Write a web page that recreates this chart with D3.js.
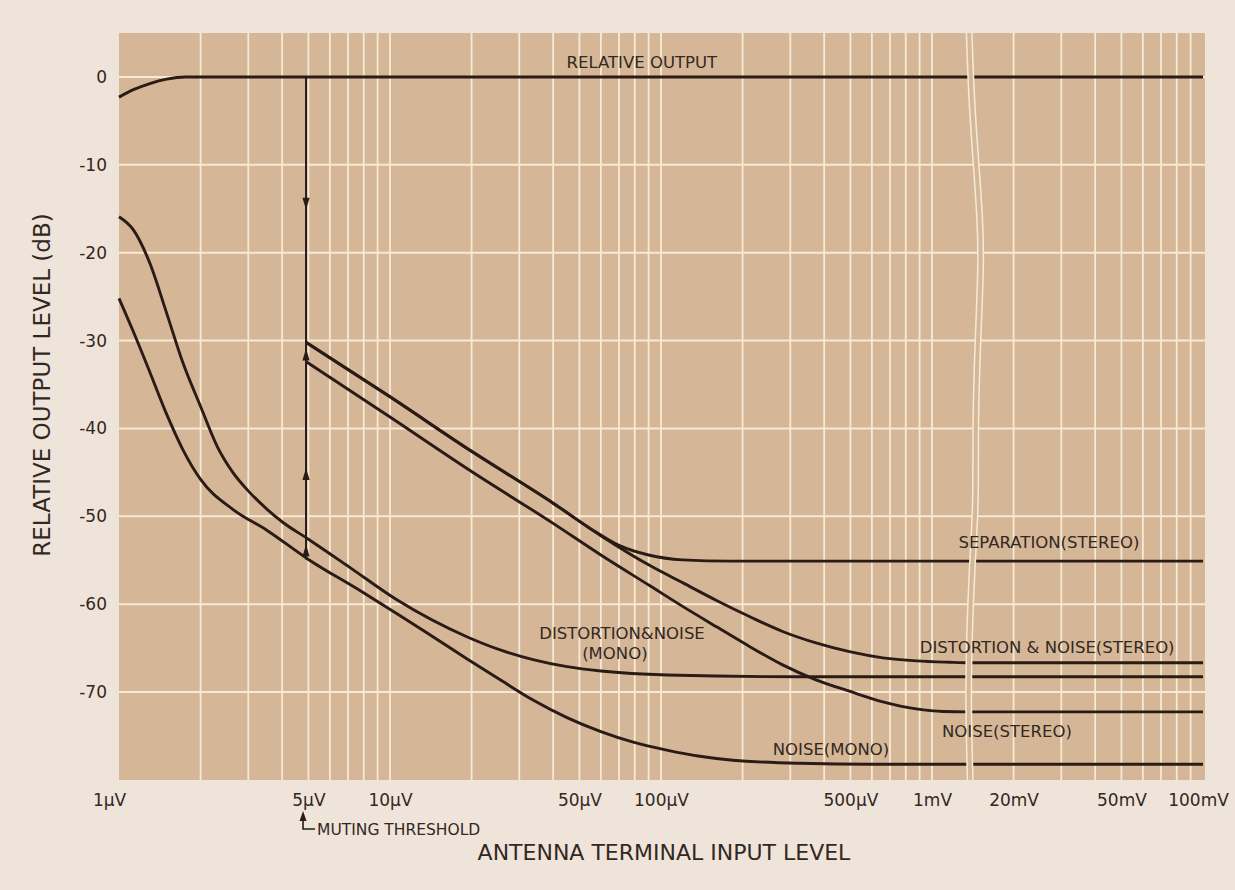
<!DOCTYPE html>
<html><head><meta charset="utf-8">
<script src="https://cdn.jsdelivr.net/npm/d3@7"></script>
<style>
html,body{margin:0;padding:0;background:#efe4da;}
svg{display:block;}
text{font-family:"DejaVu Sans","Liberation Sans",sans-serif;fill:#33281f;}
</style></head><body>
<svg id="chart" width="1235" height="890"></svg>
<script>
// ---------------- DATA (x in µV, y in dB) ----------------
const xTickValues = [1, 5, 10, 50, 100, 500, 1000, 20000, 50000, 100000];
const xTickLabels = ["1µV", "5µV", "10µV", "50µV", "100µV", "500µV", "1mV", "20mV", "50mV", "100mV"];
const yTickValues = [0, -10, -20, -30, -40, -50, -60, -70];
const yTickLabels = ["0", "-10", "-20", "-30", "-40", "-50", "-60", "-70"];

const relativeOutput = [[1,-2.3],[1.13,-1.45],[1.3,-0.75],[1.5,-0.25],[1.75,0],[2.2,0],[1000,0],[100000,0]];
const separationStereo = [[4.9,-30.2],[10,-36.4],[20,-42.6],[40,-48.5],[55,-51.4],[70,-53.3],[90,-54.4],[120,-54.95],[180,-55.1],[400,-55.1],[100000,-55.1]];
const distNoiseStereo = [[4.9,-30.2],[10,-36.4],[20,-42.6],[40,-48.5],[60,-52.2],[91,-55.6],[121,-57.6],[161,-59.6],[212,-61.4],[281,-63.1],[373,-64.4],[496,-65.4],[659,-66.1],[875,-66.45],[1160,-66.6],[2000,-66.65],[100000,-66.65]];
const noiseStereo = [[4.9,-32.4],[10,-38.7],[20,-44.9],[40,-50.8],[60,-54.4],[91,-57.9],[121,-60.3],[161,-62.6],[212,-64.8],[281,-66.9],[373,-68.6],[496,-69.9],[659,-71.1],[875,-71.9],[1100,-72.2],[2000,-72.25],[100000,-72.25]];
const distNoiseMono = [[1,-15.9],[1.13,-17.4],[1.3,-21.2],[1.5,-26.9],[1.72,-32.5],[2,-37.5],[2.3,-42.0],[2.63,-45.0],[3.04,-47.3],[3.52,-49.2],[4.03,-50.7],[5,-52.6],[7.1,-55.8],[10.6,-59.5],[19.2,-63.7],[25.5,-65.2],[33.7,-66.3],[45,-67.1],[60,-67.6],[105,-68.05],[330,-68.25],[100000,-68.25]];
const noiseMono = [[1,-25.2],[1.13,-29.0],[1.3,-33.6],[1.5,-38.4],[1.72,-42.4],[2,-45.8],[2.63,-49.2],[3.52,-51.6],[5,-54.9],[7.8,-58.5],[10.9,-61.3],[14.4,-63.7],[19.2,-66.2],[25.5,-68.6],[33.7,-70.9],[45,-72.9],[60,-74.5],[79,-75.7],[105,-76.6],[139,-77.3],[184,-77.75],[326,-78.1],[600,-78.2],[100000,-78.2]];

const seriesLabels = ["RELATIVE OUTPUT", "SEPARATION(STEREO)", "DISTORTION & NOISE(STEREO)", "NOISE(STEREO)", "DISTORTION&NOISE", "(MONO)", "NOISE(MONO)"];
const mutingThreshold = 4.9;           // µV
const mutingArrowLevels = [-15.1, -30.9, -44.5, -53.2];
const mutingArrowDirs = ["down", "up", "up", "up"];
const axisTitleX = "ANTENNA TERMINAL INPUT LEVEL";
const axisTitleY = "RELATIVE OUTPUT LEVEL (dB)";
const mutingLabel = "MUTING THRESHOLD";
const breakLow = 1360, breakHigh = 13600;  // µV, axis break (decade skipped)

// ---------------- LAYOUT ----------------
const svg = d3.select("#chart");
const plot = {left: 119, top: 33, bottom: 780};
const decade = 271;
const xBreak = plot.left + decade * Math.log10(breakLow);
const xEnd = xBreak + decade * Math.log10(100000 / breakHigh);
const x = d3.scaleLog().domain([1, breakLow, breakHigh, 100000]).range([plot.left, xBreak, xBreak, xEnd]);
const y = d3.scaleLinear().domain([5, -80]).range([plot.top, plot.bottom]);
const plotRight = xEnd + 2;

const C = {plotBg: "#d5b797", grid: "#f6ead7", ink: "#2a1b16", text: "#33281f"};

svg.append("rect").attr("x", plot.left).attr("y", plot.top)
  .attr("width", plotRight - plot.left).attr("height", plot.bottom - plot.top).attr("fill", C.plotBg);

// vertical grid
const gridX = [];
for (let k = 0; k < 3; k++) for (let m = 1; m <= 9; m++) gridX.push(m * Math.pow(10, k));
gridX.push(1000);
for (let m = 2; m <= 9; m++) gridX.push(m * 10000);
const gGrid = svg.append("g");
gGrid.selectAll("line.vx").data(gridX.filter(d => d > 1)).join("line")
  .attr("x1", d => x(d)).attr("x2", d => x(d)).attr("y1", plot.top).attr("y2", plot.bottom)
  .attr("stroke", C.grid).attr("stroke-width", 1.8);
gGrid.selectAll("line.hy").data(yTickValues).join("line")
  .attr("x1", plot.left).attr("x2", plotRight).attr("y1", d => y(d)).attr("y2", d => y(d))
  .attr("stroke", C.grid).attr("stroke-width", 2);

// curves
const line = d3.line().x(d => x(d[0])).y(d => y(d[1])).curve(d3.curveMonotoneX);
const allSeries = [relativeOutput, separationStereo, distNoiseStereo, noiseStereo, distNoiseMono, noiseMono];
svg.append("g").selectAll("path").data(allSeries).join("path")
  .attr("d", line).attr("fill", "none").attr("stroke", C.ink)
  .attr("stroke-width", 2.9).attr("stroke-linejoin", "round");

// muting threshold vertical line + arrows
const mx = x(mutingThreshold);
svg.append("line").attr("x1", mx).attr("x2", mx)
  .attr("y1", y(0)).attr("y2", y(-54.9))
  .attr("stroke", C.ink).attr("stroke-width", 2);
svg.append("g").selectAll("path").data(mutingArrowLevels).join("path")
  .attr("d", "M0,0L3.6,12L-3.6,12Z")
  .attr("transform", (d, i) => `translate(${mx},${y(d)}) rotate(${mutingArrowDirs[i] === "down" ? 180 : 0})`)
  .attr("fill", C.ink);

// axis break (wavy double line)
const wob = [[1,0],[3,0.08],[7,0.16],[12,0.25],[13,0.31],[10,0.4],[7,0.52],[8,0.63],[4,0.71],[1,0.81],[0,0.9],[2,1]];
const breakPath = d3.line().x(d => xBreak + d[0]).y(d => plot.top + d[1] * (plot.bottom - plot.top)).curve(d3.curveBasis);
svg.append("path").attr("d", breakPath(wob)).attr("fill", "none").attr("stroke", C.grid).attr("stroke-width", 7);
svg.append("path").attr("d", breakPath(wob)).attr("fill", "none").attr("stroke", C.plotBg).attr("stroke-width", 4);

// axes
const xAxis = d3.axisBottom(x).tickValues(xTickValues).tickFormat((d, i) => xTickLabels[i]).tickSize(0).tickPadding(0);
const gx = svg.append("g").attr("transform", `translate(0,${plot.bottom})`).call(xAxis);
gx.select(".domain").remove();
gx.selectAll("text").attr("y", 26).attr("dy", 0)
  .style("font-family", "DejaVu Sans").style("font-size", "17px").attr("fill", C.text)
  .attr("dx", (d, i) => i === 0 ? -10 : (i === xTickValues.length - 1 ? -5 : 0));

const yAxis = d3.axisLeft(y).tickValues(yTickValues).tickFormat((d, i) => yTickLabels[i]).tickSize(0).tickPadding(12);
const gy = svg.append("g").attr("transform", `translate(${plot.left},0)`).call(yAxis);
gy.select(".domain").remove();
gy.selectAll("text").style("font-family", "DejaVu Sans").style("font-size", "17px").attr("fill", C.text);

// axis titles
svg.append("text").attr("x", 664).attr("y", 860).attr("text-anchor", "middle")
  .style("font-size", "22px").text(axisTitleX);
svg.append("text").attr("transform", "translate(50,385) rotate(-90)").attr("text-anchor", "middle")
  .style("font-size", "23px").text(axisTitleY);

// series labels (anchored in data units)
const labelAnchors = [[85, 1.0], [27000, -53.6], [26600, -65.5], [18900, -75.1], [71.8, -64.0], [67.6, -66.2], [424, -77.1]];
svg.append("g").selectAll("text").data(seriesLabels).join("text")
  .attr("x", (d, i) => x(labelAnchors[i][0])).attr("y", (d, i) => y(labelAnchors[i][1]))
  .attr("text-anchor", "middle").style("font-size", "16.5px").text(d => d);

// muting threshold annotation
const ma = svg.append("g").attr("transform", `translate(${mx - 3},0)`);
ma.append("path").attr("d", "M0,811L3.5,821L-3.5,821Z").attr("fill", C.ink);
ma.append("path").attr("d", "M0,819V829H12").attr("fill", "none").attr("stroke", C.ink).attr("stroke-width", 1.6);
ma.append("text").attr("x", 14).attr("y", 835).style("font-size", "15.5px").text(mutingLabel);
</script>
</body></html>
